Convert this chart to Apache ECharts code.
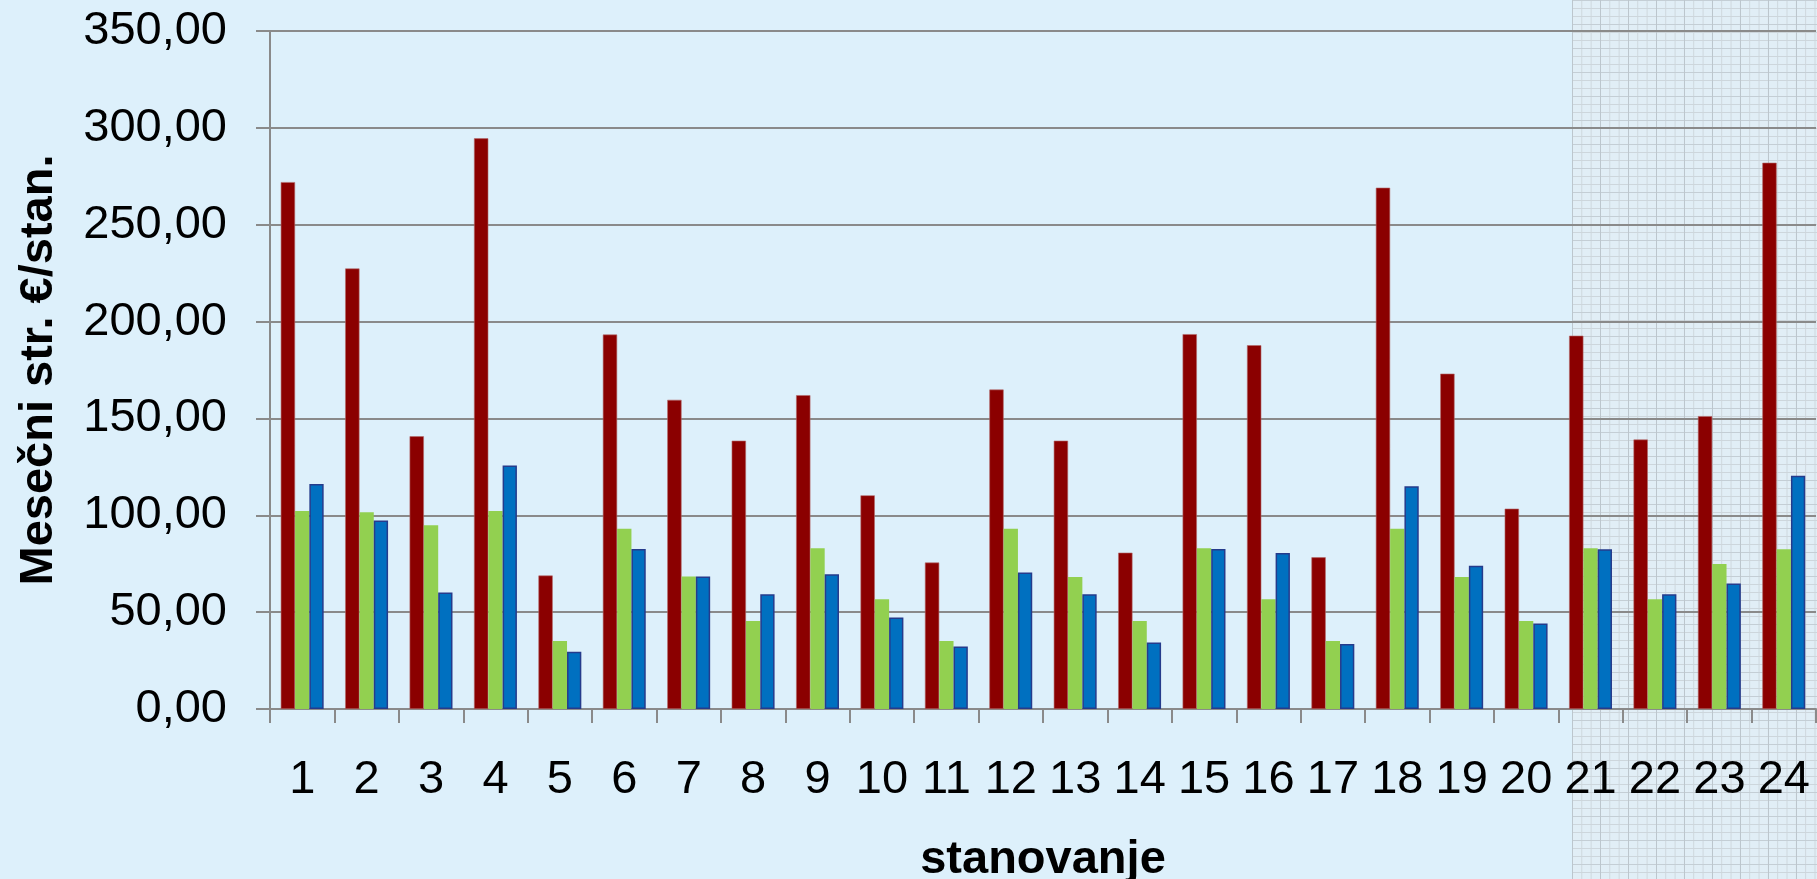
<!DOCTYPE html>
<html>
<head>
<meta charset="utf-8">
<script src="https://cdn.jsdelivr.net/npm/echarts@6/dist/echarts.min.js"></script>
<style>
  html, body { margin: 0; padding: 0; background: #ddf0fb; }
  #wrap { position: relative; width: 1817px; height: 879px; overflow: hidden; }
  #grid-zone {
    position: absolute; left: 1572px; top: 0; width: 245px; height: 879px;
    background-color: #e1eef6;
    background-image:
      linear-gradient(to right, #bcc6cd 1px, transparent 1px),
      linear-gradient(to bottom, #c4ced5 1px, transparent 1px),
      linear-gradient(to right, #cdd6dc 1px, transparent 1px),
      linear-gradient(to bottom, #cdd6dc 1px, transparent 1px);
    background-size: 28px 24px, 28px 24px, 9.33px 8px, 9.33px 8px;
  }
  #chart-1 { position: absolute; left: 0; top: 0; width: 1817px; height: 879px; }
</style>
</head>
<body>
<div id="wrap">
  <div id="grid-zone"></div>
  <div id="chart-1"></div>
</div>
<script>
// data
var categories = ["1", "2", "3", "4", "5", "6", "7", "8", "9", "10", "11", "12",
  "13", "14", "15", "16", "17", "18", "19", "20", "21", "22", "23", "24"];
var redValues = [272.0, 227.4, 140.8, 294.6, 68.9, 193.3, 159.6, 138.5, 162.0, 110.3, 75.6, 164.9,
  138.5, 80.7, 193.5, 187.8, 78.3, 269.1, 173.1, 103.4, 192.7, 139.1, 151.2, 282.0];
var greenValues = [102.2, 101.6, 94.8, 102.2, 35.1, 93.0, 68.4, 45.4, 83.0, 56.6, 35.1, 93.0,
  68.2, 45.4, 83.0, 56.6, 35.1, 93.0, 68.2, 45.4, 83.0, 56.6, 74.8, 82.5];
var blueValues = [116.1, 97.3, 60.1, 125.7, 29.6, 82.6, 68.4, 59.3, 69.5, 47.2, 32.3, 70.5,
  59.3, 34.3, 82.6, 80.5, 33.5, 115.0, 74.0, 44.1, 82.5, 59.3, 64.8, 120.4];

/**Chart 1**/
var dom = document.getElementById("chart-1");
var Chart1 = echarts.init(dom, null, {
  renderer: "canvas",
  useDirtyRect: false,
});

var font = "'Liberation Sans', Arial, sans-serif";

var option = {
  backgroundColor: "transparent",
  animation: false,
  grid: {
    left: 270,
    right: 1,
    top: 31,
    bottom: 170,
    containLabel: false,
    outerBoundsMode: "none",
  },
  xAxis: {
    type: "category",
    data: categories,
    name: "stanovanje",
    nameLocation: "middle",
    nameGap: 128,
    nameMoveOverlap: false,
    nameTextStyle: { fontFamily: font, fontSize: 47, fontWeight: "bold", color: "#000" },
    axisLine: { lineStyle: { color: "#8a8a8a", width: 2 } },
    axisTick: { show: true, length: 14, lineStyle: { color: "#8a8a8a", width: 2 } },
    axisLabel: { fontFamily: font, fontSize: 47, color: "#000", margin: 48, interval: 0 },
  },
  yAxis: {
    type: "value",
    min: 0,
    max: 350,
    interval: 50,
    name: "Mesečni str. €/stan.",
    nameLocation: "middle",
    nameGap: 207,
    nameMoveOverlap: false,
    nameTextStyle: { fontFamily: font, fontSize: 47, fontWeight: "bold", color: "#000" },
    axisLine: { show: true, lineStyle: { color: "#8a8a8a", width: 2 } },
    axisTick: { show: true, length: 14, lineStyle: { color: "#8a8a8a", width: 2 } },
    splitLine: { lineStyle: { color: "#8a8a8a", width: 2 } },
    axisLabel: {
      fontFamily: font,
      fontSize: 47,
      color: "#000",
      margin: 43,
      formatter: function (value) {
        return value.toFixed(2).replace(".", ",");
      },
    },
  },
  series: [
    {
      name: "Serija 1",
      type: "bar",
      barWidth: 14.3,
      barGap: "0%",
      itemStyle: { color: "#8b0000", borderColor: "#b46a6a", borderWidth: 0.6 },
      data: redValues,
    },
    {
      name: "Serija 2",
      type: "bar",
      barWidth: 14.3,
      barGap: "0%",
      itemStyle: { color: "#92d050" },
      data: greenValues,
    },
    {
      name: "Serija 3",
      type: "bar",
      barWidth: 14.3,
      barGap: "0%",
      itemStyle: { color: "#0070c0", borderColor: "#253b8c", borderWidth: 1.5 },
      data: blueValues,
    },
  ],
};

if (option && typeof option === "object") {
  Chart1.setOption(option);
}

window.addEventListener("resize", Chart1.resize);
/**End Chart 1**/
</script>
</body>
</html>
